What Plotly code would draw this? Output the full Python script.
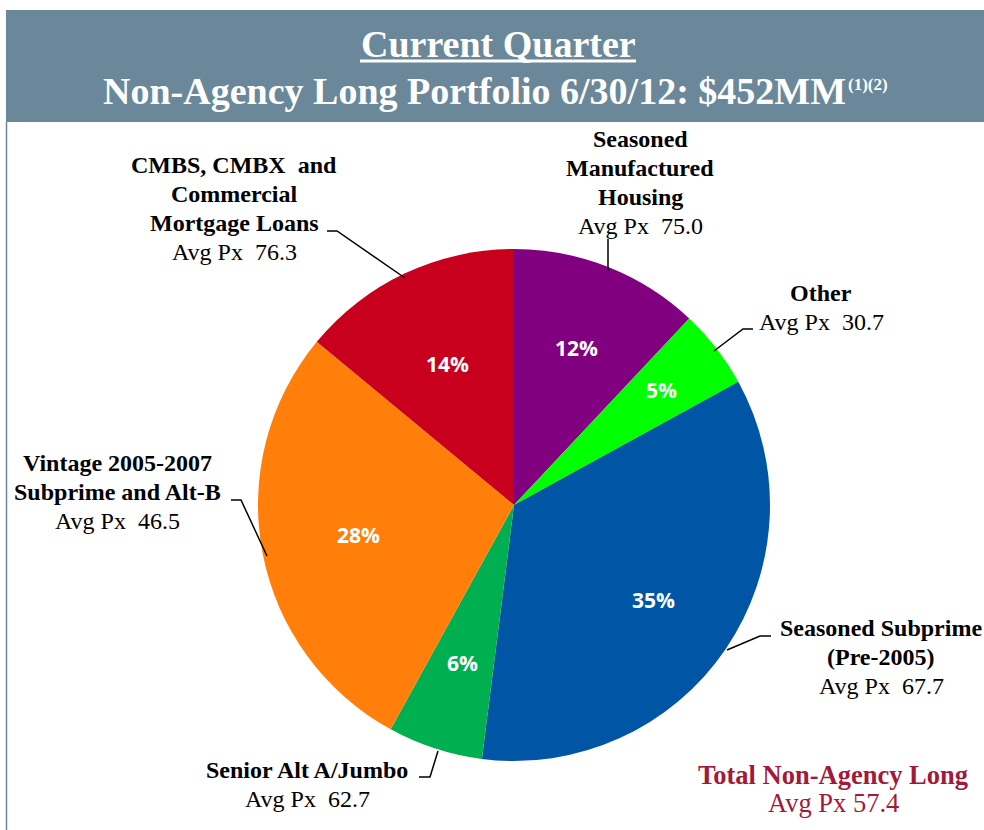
import math
import plotly.graph_objects as go

# --- data ---------------------------------------------------------------
categories = [
    "Seasoned Manufactured Housing",
    "Other",
    "Seasoned Subprime (Pre-2005)",
    "Senior Alt A/Jumbo",
    "Vintage 2005-2007 Subprime and Alt-B",
    "CMBS, CMBX and Commercial Mortgage Loans",
]
label_lines = [
    ["Seasoned", "Manufactured", "Housing"],
    ["Other"],
    ["Seasoned Subprime", "(Pre-2005)"],
    ["Senior Alt A/Jumbo"],
    ["Vintage 2005-2007", "Subprime and Alt-B"],
    ["CMBS, CMBX  and", "Commercial", "Mortgage Loans"],
]
shares = [12, 5, 35, 6, 28, 14]
avg_px = [75.0, 30.7, 67.7, 62.7, 46.5, 76.3]
total_avg_px = 57.4
colors = ["#800080", "#00FF00", "#0055A5", "#00B050", "#FF7F0A", "#C8001E"]

W, H = 984, 830
SERIF = "Liberation Serif, Times New Roman, serif"
BAND = "#6A8899"


def px(x):
    return x / W


def py(y):
    return 1 - y / H


# label block: (center x, first line y) in pixels, and leader path
label_pos = [(640, 139), (821, 293), (881, 628), (307, 770), (117, 463), (234, 165)]
leaders = [
    [(608, 239), (608, 271)],
    [(753, 329), (743, 329), (714, 351)],
    [(771, 636), (760, 636), (727, 650)],
    [(419, 777), (430, 777), (438, 751)],
    [(231, 500), (241, 500), (267, 556)],
    [(327, 231), (337, 231), (405, 278)],
]
# radial position of the percent labels (fraction of radius)
pct_radius = [0.66, 0.73, 0.66, 0.65, 0.62, 0.61]

fig = go.Figure()

cx, cy, R = 514, 505, 256
fig.add_trace(go.Pie(
    labels=categories,
    values=shares,
    sort=False,
    direction="clockwise",
    rotation=0,
    marker=dict(colors=colors, line=dict(width=0)),
    textinfo="none",
    domain=dict(x=[px(cx - R), px(cx + R)], y=[py(cy + R), py(cy - R)]),
    showlegend=False,
    hoverinfo="label+percent",
))

annotations = []
shapes = []

# percent labels inside the slices
total = sum(shares)
cum = 0
for s, rf in zip(shares, pct_radius):
    a = math.radians((cum + s / 2) / total * 360)
    cum += s
    annotations.append(dict(
        x=px(cx + rf * R * math.sin(a)), y=py(cy - rf * R * math.cos(a)),
        xref="paper", yref="paper", showarrow=False, xanchor="center", yanchor="middle",
        text="<b>%d%%</b>" % s,
        font=dict(family="Open Sans, Arial, sans-serif", size=21, color="white"),
    ))

# category labels
LS = 29
for lines, val, (lx, ly) in zip(label_lines, avg_px, label_pos):
    for i, t in enumerate(lines):
        annotations.append(dict(
            x=px(lx), y=py(ly + i * LS), xref="paper", yref="paper",
            text="<b>%s</b>" % t, showarrow=False, xanchor="center", yanchor="middle",
            font=dict(family=SERIF, size=24, color="black"),
        ))
    annotations.append(dict(
        x=px(lx), y=py(ly + len(lines) * LS), xref="paper", yref="paper",
        text="Avg Px  %.1f" % val, showarrow=False, xanchor="center", yanchor="middle",
        font=dict(family=SERIF, size=24, color="black"),
    ))

for pts in leaders:
    path = "M " + " L ".join("%f,%f" % (px(x), py(y)) for x, y in pts)
    shapes.append(dict(type="path", path=path, xref="paper", yref="paper",
                       line=dict(color="black", width=1.5)))

# total
annotations.append(dict(
    x=px(833), y=py(775), xref="paper", yref="paper", showarrow=False,
    xanchor="center", yanchor="middle",
    text="<b>Total Non-Agency Long</b>", font=dict(family=SERIF, size=26.5, color="#A3193A"),
))
annotations.append(dict(
    x=px(833), y=py(803), xref="paper", yref="paper", showarrow=False,
    xanchor="center", yanchor="middle",
    text="Avg Px %.1f" % total_avg_px, font=dict(family=SERIF, size=26.5, color="#A3193A"),
))

# header band
shapes.append(dict(type="rect", xref="paper", yref="paper", x0=px(6), x1=px(W),
                   y0=py(122), y1=py(10), fillcolor=BAND, line=dict(width=0), layer="below"))
shapes.append(dict(type="line", xref="paper", yref="paper", x0=px(6.5), x1=px(6.5),
                   y0=py(122), y1=py(H), line=dict(color=BAND, width=1.5)))
shapes.append(dict(type="line", xref="paper", yref="paper", x0=px(360), x1=px(636),
                   y0=py(61), y1=py(61), line=dict(color="white", width=3)))

annotations.append(dict(
    x=px(498), y=py(44), xref="paper", yref="paper", showarrow=False,
    xanchor="center", yanchor="middle",
    text="<b>Current Quarter</b>", font=dict(family=SERIF, size=38, color="white"),
))
annotations.append(dict(
    x=px(474), y=py(91), xref="paper", yref="paper", showarrow=False,
    xanchor="center", yanchor="middle",
    text="<b>Non-Agency Long Portfolio 6/30/12: $452MM</b>",
    font=dict(family=SERIF, size=38, color="white"),
))
annotations.append(dict(
    x=px(846), y=py(84), xref="paper", yref="paper", showarrow=False,
    xanchor="left", yanchor="middle",
    text="<b>(1)(2)</b>", font=dict(family=SERIF, size=17, color="white"),
))

fig.update_layout(
    width=W, height=H,
    margin=dict(l=0, r=0, t=0, b=0),
    paper_bgcolor="white",
    plot_bgcolor="white",
    annotations=annotations,
    shapes=shapes,
)

fig.write_html("out.html", config={"displayModeBar": False},
               post_script="document.body.style.margin='0px';")
